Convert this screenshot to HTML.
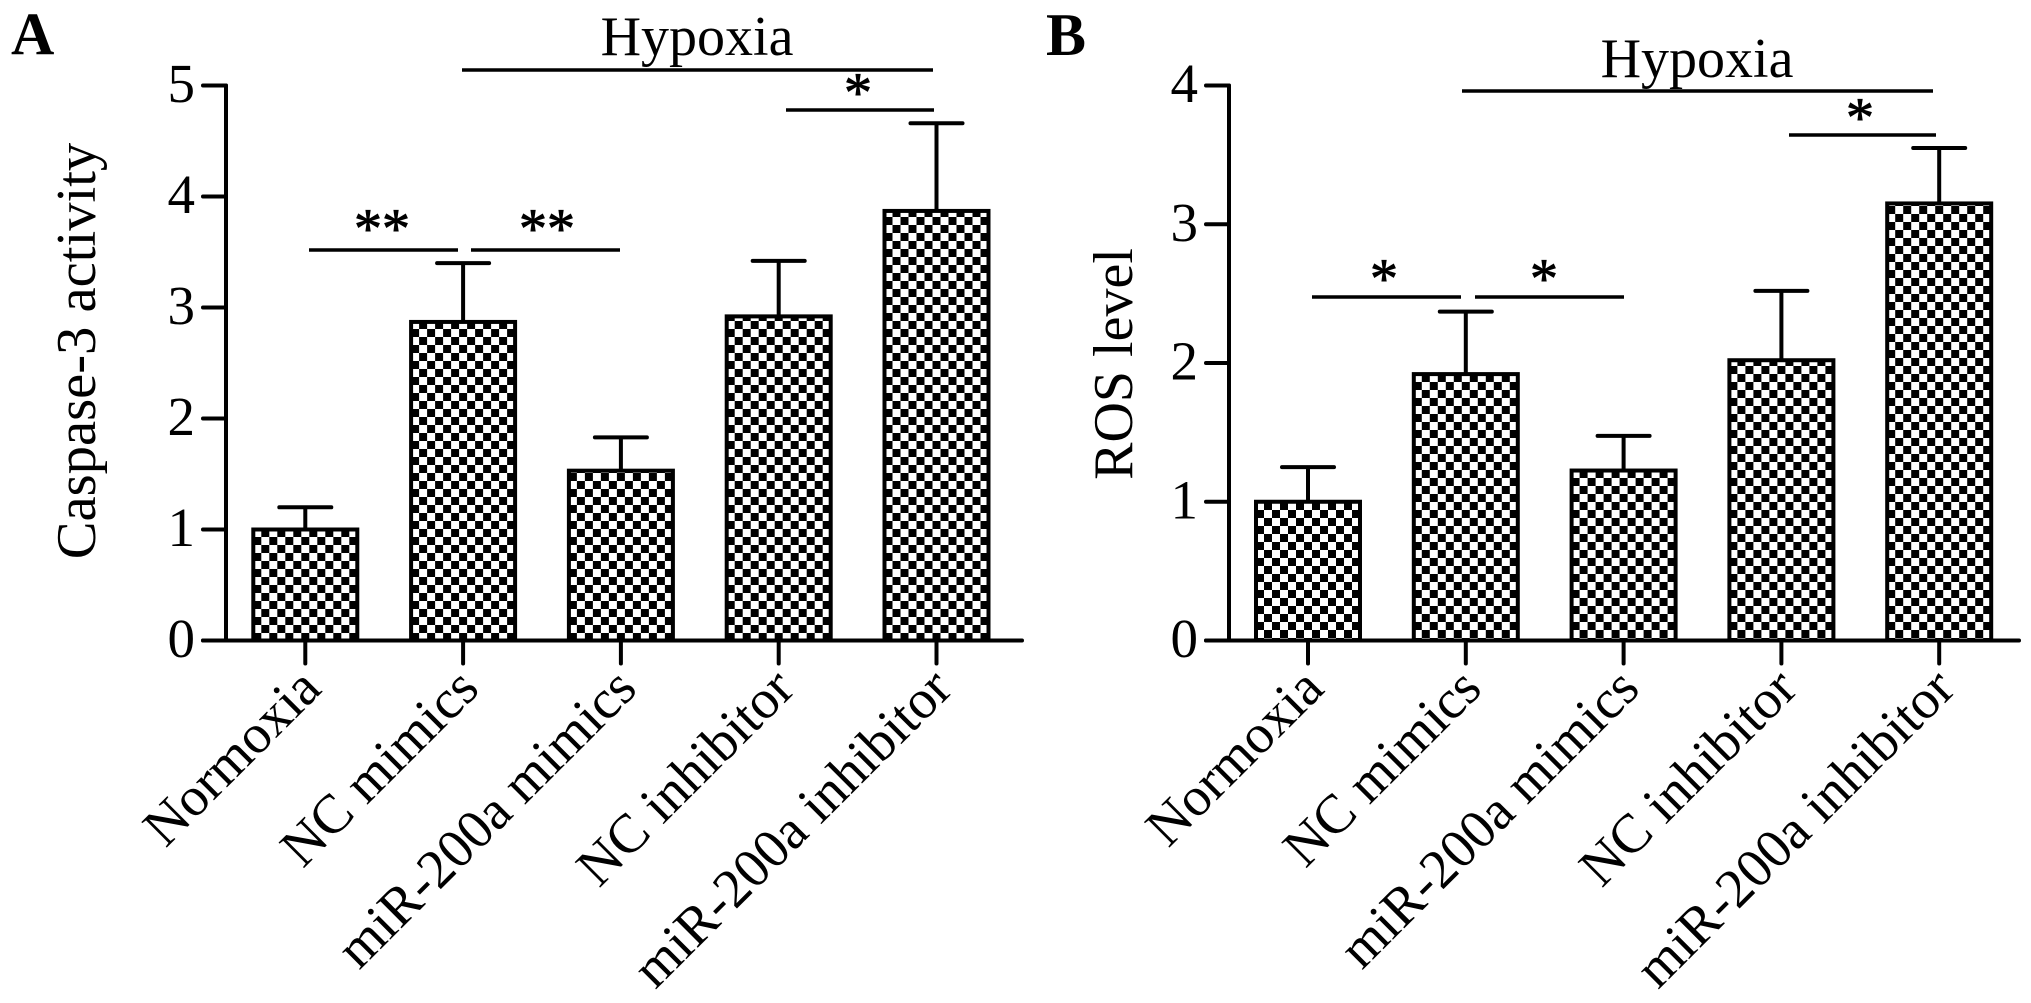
<!DOCTYPE html>
<html lang="en">
<head>
<meta charset="utf-8">
<title>Caspase-3 activity and ROS level</title>
<style>
  html, body { margin: 0; padding: 0; background: #fff; }
  svg { display: block; }
  text { font-family: "Liberation Serif", serif; fill: #000; }
  .axis { stroke: #000; stroke-width: 4; stroke-linecap: round; fill: none; }
  .sig { stroke: #000; stroke-width: 3.6; fill: none; }
  .star { stroke: #000; stroke-width: 0.9; }
</style>
</head>
<body>
<svg id="chart" xmlns="http://www.w3.org/2000/svg" width="2031" height="1003" viewBox="0 0 2031 1003">
  <defs id="defs"></defs>
  <rect width="2031" height="1003" fill="#fff"/>

  <text x="11" y="54" font-size="60" font-weight="bold">A</text>
  <text x="1046" y="55" font-size="60" font-weight="bold">B</text>

  <g>
    <text x="697" y="55" font-size="56" text-anchor="middle">Hypoxia</text>
    <line class="sig" x1="462" y1="70" x2="933" y2="70"/>
    <line class="sig" x1="786" y1="110" x2="934" y2="110"/>
    <text class="star" x="858" y="111" font-size="56" text-anchor="middle">*</text>
    <line class="sig" x1="309" y1="250" x2="458" y2="250"/>
    <text class="star" x="382" y="247" font-size="56" text-anchor="middle">**</text>
    <line class="sig" x1="471" y1="250" x2="620" y2="250"/>
    <text class="star" x="547" y="247" font-size="56" text-anchor="middle">**</text>
  </g>

  <g>
    <text x="1697" y="77" font-size="56" text-anchor="middle">Hypoxia</text>
    <line class="sig" x1="1462" y1="91" x2="1933" y2="91"/>
    <line class="sig" x1="1789" y1="135" x2="1936" y2="135"/>
    <text class="star" x="1860" y="136" font-size="56" text-anchor="middle">*</text>
    <line class="sig" x1="1312" y1="297" x2="1461" y2="297"/>
    <text class="star" x="1384" y="297" font-size="56" text-anchor="middle">*</text>
    <line class="sig" x1="1475" y1="297" x2="1624" y2="297"/>
    <text class="star" x="1544" y="297" font-size="56" text-anchor="middle">*</text>
  </g>

  <text transform="translate(95 351) rotate(-90)" font-size="56.6" text-anchor="middle">Caspase-3 activity</text>
  <text transform="translate(1132 364) rotate(-90)" font-size="56" text-anchor="middle">ROS level</text>

  <g id="panel-a"></g>
  <g id="panel-b"></g>
</svg>

<script>
const categories = ["Normoxia", "NC mimics", "miR-200a mimics", "NC inhibitor", "miR-200a inhibitor"];
const caspaseValues = [1.00, 2.87, 1.53, 2.92, 3.87];
const caspaseErrors = [0.20, 0.53, 0.30, 0.50, 0.79];
const caspaseTicks = [0, 1, 2, 3, 4, 5];
const rosValues = [1.00, 1.92, 1.225, 2.02, 3.15];
const rosErrors = [0.25, 0.45, 0.25, 0.50, 0.40];
const rosTicks = [0, 1, 2, 3, 4];

const SVG_NS = "http://www.w3.org/2000/svg";
const defs = document.getElementById("defs");

function make(parent, tag, attrs) {
  const el = document.createElementNS(SVG_NS, tag);
  for (const k in attrs) el.setAttribute(k, attrs[k]);
  parent.appendChild(el);
  return el;
}

function drawPanel(cfg) {
  const root = document.getElementById(cfg.id);
  const xOf = i => cfg.x0 + cfg.xStep * i;
  const yOf = v => cfg.yZero - v * cfg.yUnit;

  const bars = make(root, "g", {});
  
  

  cfg.values.forEach((v, i) => {
    const cx = xOf(i);
    const top = yOf(v);
    const errTop = yOf(v + cfg.errors[i]);
    const w = 104;
    const left = cx - w / 2;

    const pat = make(defs, "pattern", {
      id: cfg.id + "-check-" + i,
      patternUnits: "userSpaceOnUse",
      x: left + 8, y: cfg.patternY, width: 16, height: 16
    });
    make(pat, "rect", { width: 16, height: 16, fill: "#fff" });
    make(pat, "rect", { x: 0, y: 0, width: 8, height: 8, fill: "#000" });
    make(pat, "rect", { x: 8, y: 8, width: 8, height: 8, fill: "#000" });

    const stem = make(bars, "line", { x1: cx, x2: cx, y1: errTop, y2: top, stroke: "#000", "stroke-width": 4 });
    
    

    const cap = make(bars, "line", { x1: cx - 26, x2: cx + 26, y1: errTop, y2: errTop, stroke: "#000", "stroke-width": 4, "stroke-linecap": "round" });
    
    

    const bar = make(bars, "rect", {
      x: left, y: top, width: w, height: cfg.yZero - top,
      fill: "url(#" + cfg.id + "-check-" + i + ")", stroke: "#000", "stroke-width": 4
    });
    
    

    const tick = make(root, "line", { class: "axis", x1: cx, x2: cx, y1: cfg.yZero, y2: cfg.yZero + 23 });
    
    

    const ax = cx + 18;
    const ay = 691;
    const label = make(root, "text", {
      transform: "translate(" + ax + " " + ay + ") rotate(-45)",
      "font-size": 55, "text-anchor": "end"
    });
    label.textContent = categories[i];
    
    
  });

  const yMax = cfg.ticks[cfg.ticks.length - 1];
  const yAxis = make(root, "line", { class: "axis", x1: cfg.axisX, x2: cfg.axisX, y1: yOf(yMax), y2: cfg.yZero });
  
  

  const xAxis = make(root, "line", { class: "axis", x1: cfg.axisX - 23, x2: cfg.axisEnd, y1: cfg.yZero, y2: cfg.yZero });
  
  

  cfg.ticks.forEach(t => {
    const y = yOf(t);
    const tick = make(root, "line", { class: "axis", x1: cfg.axisX - 23, x2: cfg.axisX, y1: y, y2: y });
    
    

    const label = make(root, "text", { x: cfg.axisX - 31, y: y + 16.5, "font-size": 55, "text-anchor": "end" });
    label.textContent = String(t);
    
    
  });
}

drawPanel({
  id: "panel-a", values: caspaseValues, errors: caspaseErrors, ticks: caspaseTicks,
  x0: 305.3, xStep: 157.8, yZero: 640.5, yUnit: 111, axisX: 226, axisEnd: 1022, patternY: 625
});
drawPanel({
  id: "panel-b", values: rosValues, errors: rosErrors, ticks: rosTicks,
  x0: 1308, xStep: 157.8, yZero: 640.5, yUnit: 138.75, axisX: 1229, axisEnd: 2019, patternY: 630
});
</script>
</body>
</html>
